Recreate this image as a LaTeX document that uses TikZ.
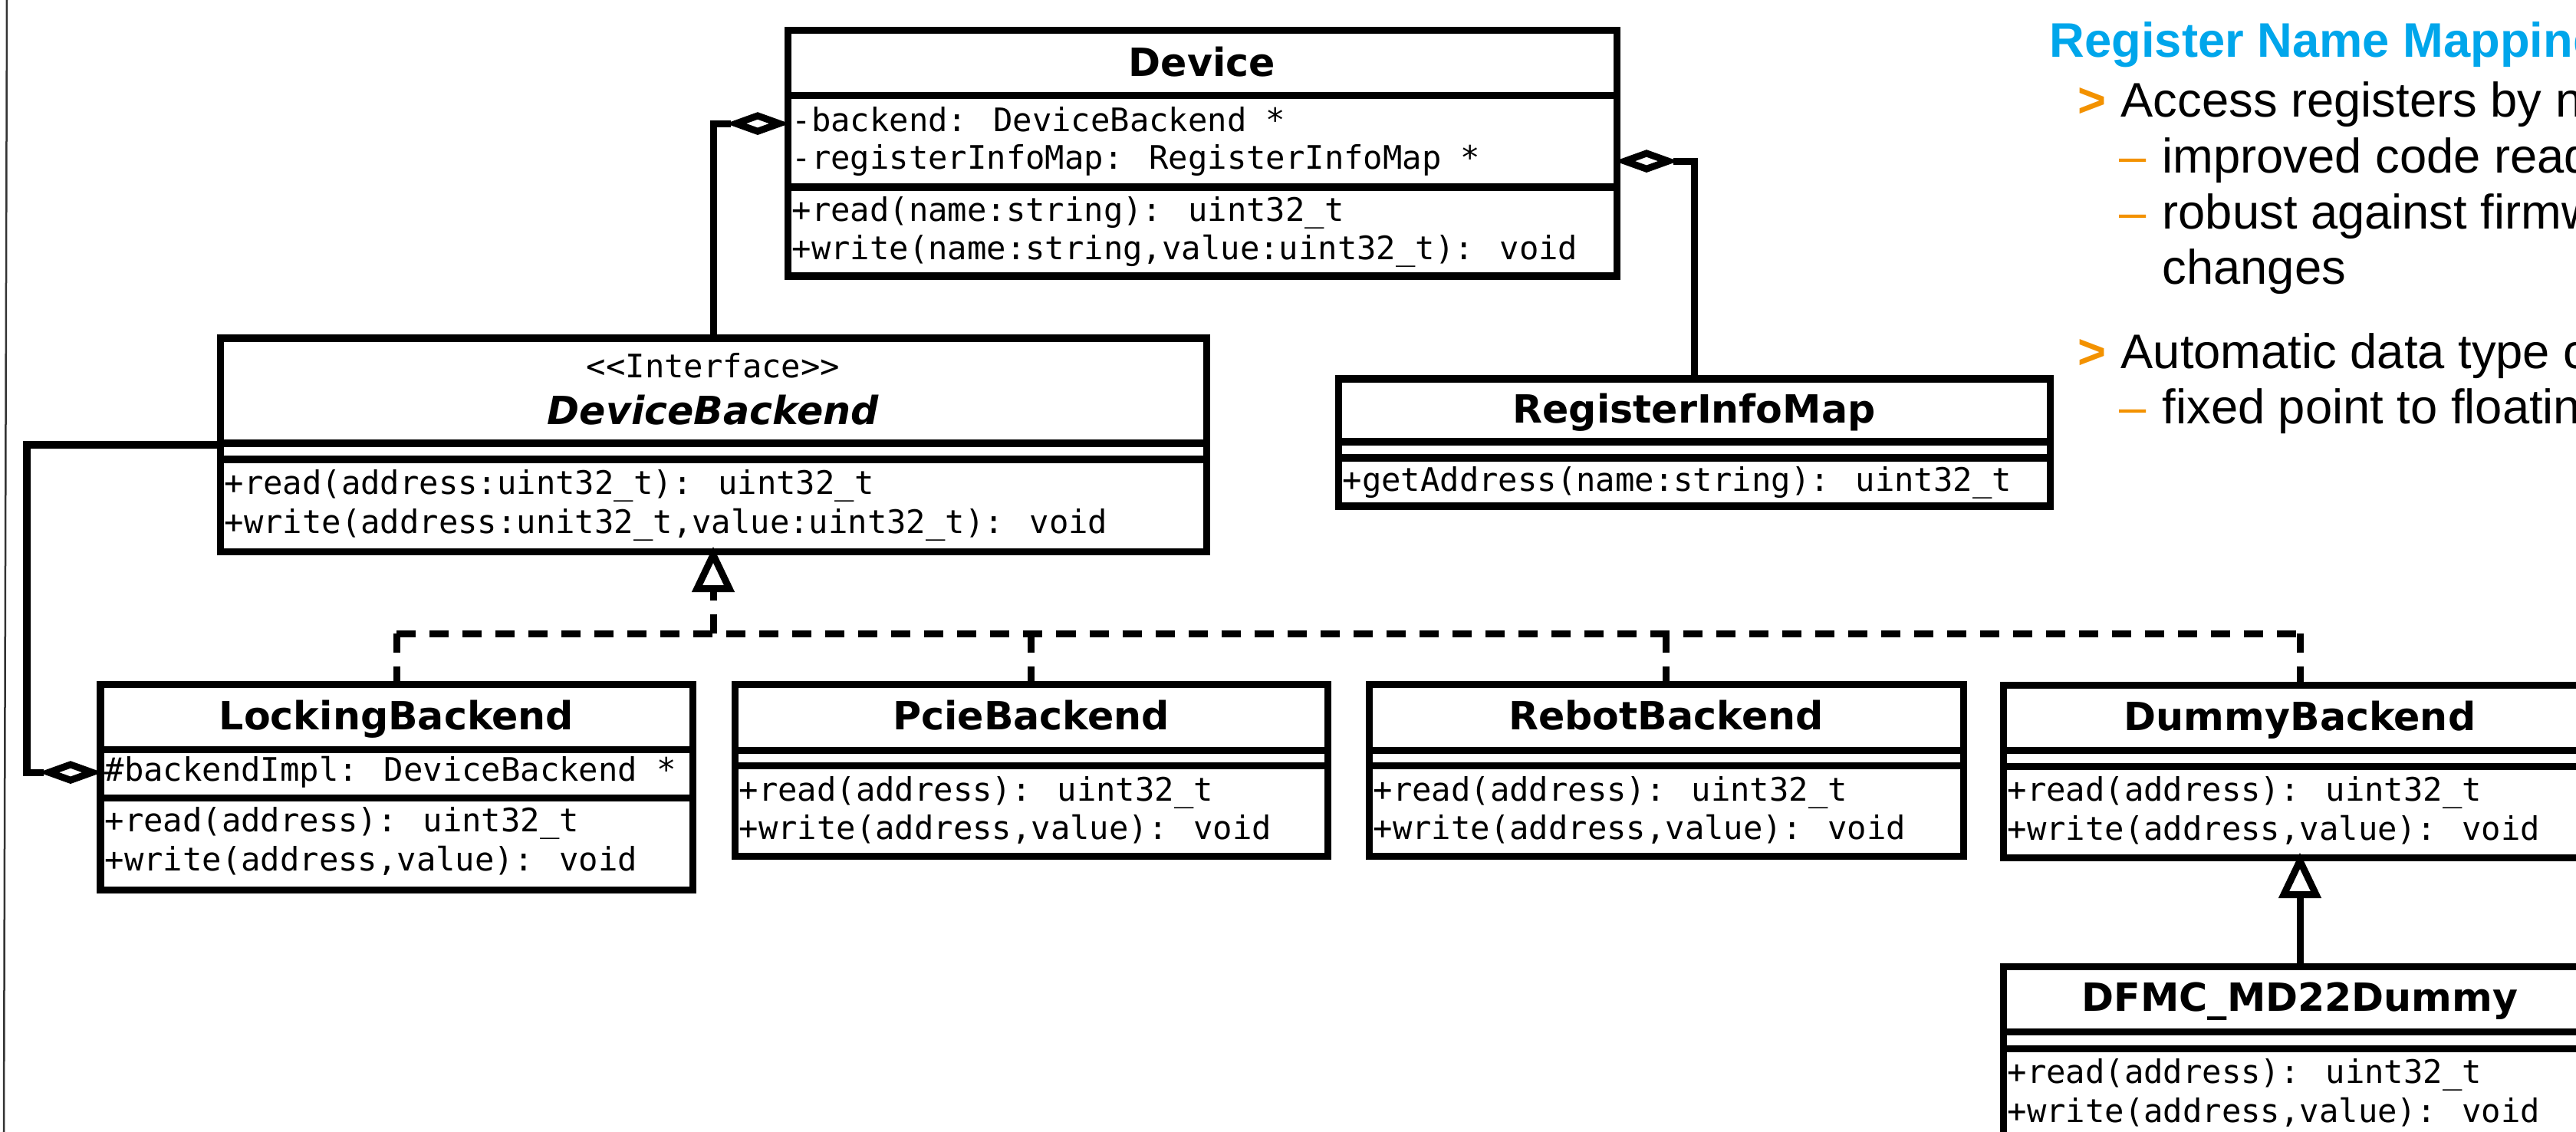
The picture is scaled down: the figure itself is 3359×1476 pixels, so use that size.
\documentclass[tikz,border=0pt]{standalone}
\usepackage{fontspec}
\usetikzlibrary{shapes.geometric,fit}
\newfontfamily\umlmono{DejaVu Sans Mono}
\newfontfamily\umlsans{DejaVu Sans}
\newfontfamily\slidesans{Liberation Sans}
\definecolor{desyblue}{HTML}{00A6EB}
\definecolor{desyorange}{HTML}{F39200}

\tikzset{
  umlline/.style={line width=0.09cm, line join=miter},
  classbox/.style={draw, umlline, inner sep=0pt},
  compartment/.style={umlline},
  member/.style={anchor=base west, inner sep=0pt, text height=9.1pt, text depth=2.9pt,
    font=\umlmono\fontsize{12pt}{14pt}\selectfont},
  stereo/.style={anchor=base, inner sep=0pt, font=\umlmono\fontsize{12pt}{14pt}\selectfont},
  classname/.style={anchor=base, inner sep=0pt, font=\umlsans\bfseries\fontsize{14.4pt}{17pt}\selectfont},
  ifacename/.style={anchor=base, inner sep=0pt, font=\umlsans\bfseries\itshape\fontsize{14.4pt}{17pt}\selectfont},
  aggdiamond/.style={diamond, draw, fill=white, umlline, inner sep=0pt,
    minimum width=0.6cm, minimum height=0.24cm},
  hollowhead/.style={draw, fill=white, umlline},
  realization/.style={umlline, dash pattern=on 0.25cm off 0.18cm},
  slidetitle/.style={anchor=base west, inner sep=0pt, text=desyblue,
    font=\slidesans\bfseries\fontsize{18pt}{22pt}\selectfont},
  slidetext/.style={anchor=base west, inner sep=0pt, font=\slidesans\fontsize{18pt}{22pt}\selectfont},
  slidemark/.style={anchor=base west, inner sep=0pt, text=desyorange,
    font=\slidesans\bfseries\fontsize{18pt}{22pt}\selectfont},
  slidedash/.style={anchor=base west, inner sep=0pt, text=desyorange,
    font=\slidesans\fontsize{18pt}{22pt}\selectfont},
}

\begin{document}
\begin{tikzpicture}[x=0.01cm, y=-0.01cm]
\useasboundingbox (0,0) rectangle (3359,1476);
\clip (0,0) rectangle (3359,1476);
\fill[white] (0,0) rectangle (3359,1476);

% slide edge
\draw[line width=0.025cm, black!80] (9,0) -- (5,1476);

% ---------- Device ----------
\node[classbox, fit={(1027,40) (2108,360)}] (dev) {};
\draw[compartment] (1027,125) -- (2108,125) (1027,244) -- (2108,244);
\node[classname] (devT) at (1567.5,100) {Device};
\node[member] (devA1) at (1032,172) {-backend: DeviceBackend *};
\node[member] (devA2) at (1032,221) {-registerInfoMap: RegisterInfoMap *};
\node[member] (devM1) at (1032,288) {+read(name:string): uint32\_t};
\node[member] (devM2) at (1032,338) {+write(name:string,value:uint32\_t): void};

% ---------- DeviceBackend (interface) ----------
\node[classbox, fit={(287,441) (1573,719)}] (devb) {};
\draw[compartment] (287,578) -- (1573,578) (287,599) -- (1573,599);
\node[stereo] (devbS) at (930,492) {<\kern0pt<Interface>\kern0pt>};
\node[ifacename] (devbT) at (930,553) {DeviceBackend};
\node[member] (devbM1) at (292,644) {+read(address:uint32\_t): uint32\_t};
\node[member] (devbM2) at (292,695) {+write(address:unit32\_t,value:uint32\_t): void};

% ---------- RegisterInfoMap ----------
\node[classbox, fit={(1745,494) (2673,660)}] (rim) {};
\draw[compartment] (1745,576) -- (2673,576) (1745,597) -- (2673,597);
\node[classname] (rimT) at (2209,551) {RegisterInfoMap};
\node[member] (rimM1) at (1750,640) {+getAddress(name:string): uint32\_t};

% ---------- LockingBackend ----------
\node[classbox, fit={(131,892) (903,1160)}] (lock) {};
\draw[compartment] (131,977) -- (903,977) (131,1040) -- (903,1040);
\node[classname] (lockT) at (517,951) {LockingBackend};
\node[member] (lockA1) at (136,1018) {\#backendImpl: DeviceBackend *};
\node[member] (lockM1) at (136,1084) {+read(address): uint32\_t};
\node[member] (lockM2) at (136,1135) {+write(address,value): void};

% ---------- PcieBackend ----------
\node[classbox, fit={(958,892) (1731,1116)}] (pcie) {};
\draw[compartment] (958,978) -- (1731,978) (958,998) -- (1731,998);
\node[classname] (pcieT) at (1344.5,951) {PcieBackend};
\node[member] (pcieM1) at (963,1044) {+read(address): uint32\_t};
\node[member] (pcieM2) at (963,1094) {+write(address,value): void};

% ---------- RebotBackend ----------
\node[classbox, fit={(1785,892) (2560,1116)}] (rebot) {};
\draw[compartment] (1785,978) -- (2560,978) (1785,998) -- (2560,998);
\node[classname] (rebotT) at (2172.5,951) {RebotBackend};
\node[member] (rebotM1) at (1790,1044) {+read(address): uint32\_t};
\node[member] (rebotM2) at (1790,1094) {+write(address,value): void};

% ---------- DummyBackend ----------
\node[classbox, fit={(2612,893) (3386,1118)}] (dummy) {};
\draw[compartment] (2612,978) -- (3386,978) (2612,999) -- (3386,999);
\node[classname] (dummyT) at (2999,952) {DummyBackend};
\node[member] (dummyM1) at (2617,1044) {+read(address): uint32\_t};
\node[member] (dummyM2) at (2617,1095) {+write(address,value): void};

% ---------- DFMC_MD22Dummy ----------
\node[classbox, fit={(2612,1260) (3386,1486)}] (dfmc) {};
\draw[compartment] (2612,1345) -- (3386,1345) (2612,1367) -- (3386,1367);
\node[classname] (dfmcT) at (2999,1318) {DFMC\_MD22Dummy};
\node[member] (dfmcM1) at (2617,1412) {+read(address): uint32\_t};
\node[member] (dfmcM2) at (2617,1463) {+write(address,value): void};

% ---------- aggregations (hollow diamonds) ----------
\node[aggdiamond, anchor=east] (agg1) at (devA1.west -| dev.west) {};
\draw[umlline] (agg1.west) -| (devb.north);

\node[aggdiamond, anchor=west] (agg2) at (devA2.east -| dev.east) {};
\draw[umlline] (agg2.east) -| (rim.north);

\coordinate (loop) at (35,1010);
\node[aggdiamond, anchor=east] (agg3) at (lockA1.west -| lock.west) {};
\draw[umlline] (agg3.west) -- (agg3.west -| loop) |- (devb.west);

% ---------- realization of the interface ----------
\coordinate (jn) at (930,826);
\coordinate (tri1) at ([yshift=-0.44cm]devb.south);
\draw[realization] (jn) -- (tri1);
\draw[realization] (lock.north |- jn) -- (dummy.north |- jn);
\draw[realization] (lock.north |- jn) -- (lock.north);
\draw[realization] (pcie.north |- jn) -- (pcie.north);
\draw[realization] (rebot.north |- jn) -- (rebot.north);
\draw[realization] (dummy.north |- jn) -- (dummy.north);
\draw[hollowhead] (devb.south) -- ([xshift=-0.21cm]tri1) -- ([xshift=0.21cm]tri1) -- cycle;

% ---------- inheritance ----------
\coordinate (tri2) at ([yshift=-0.44cm]dummy.south);
\draw[umlline] (dfmc.north) -- (tri2);
\draw[hollowhead] (dummy.south) -- ([xshift=-0.21cm]tri2) -- ([xshift=0.21cm]tri2) -- cycle;

% ---------- slide text ----------
\node[slidetitle] (hdr) at (2672,75) {Register Name Mapping};
\node[slidemark] (b1) at (2709,153) {>};
\node[slidetext] (t1) at (2765,153) {Access registers by name};
\node[slidedash] (d1) at (2763,226) {–};
\node[slidetext] (t2) at (2819,226) {improved code readability};
\node[slidedash] (d2) at (2763,298) {–};
\node[slidetext] (t3) at (2819,298) {robust against firmware};
\node[slidetext] (t4) at (2819,370) {changes};
\node[slidemark] (b2) at (2709,481) {>};
\node[slidetext] (t5) at (2765,481) {Automatic data type conversion};
\node[slidedash] (d3) at (2763,552) {–};
\node[slidetext] (t6) at (2819,552) {fixed point to floating point};
\end{tikzpicture}
\end{document}
